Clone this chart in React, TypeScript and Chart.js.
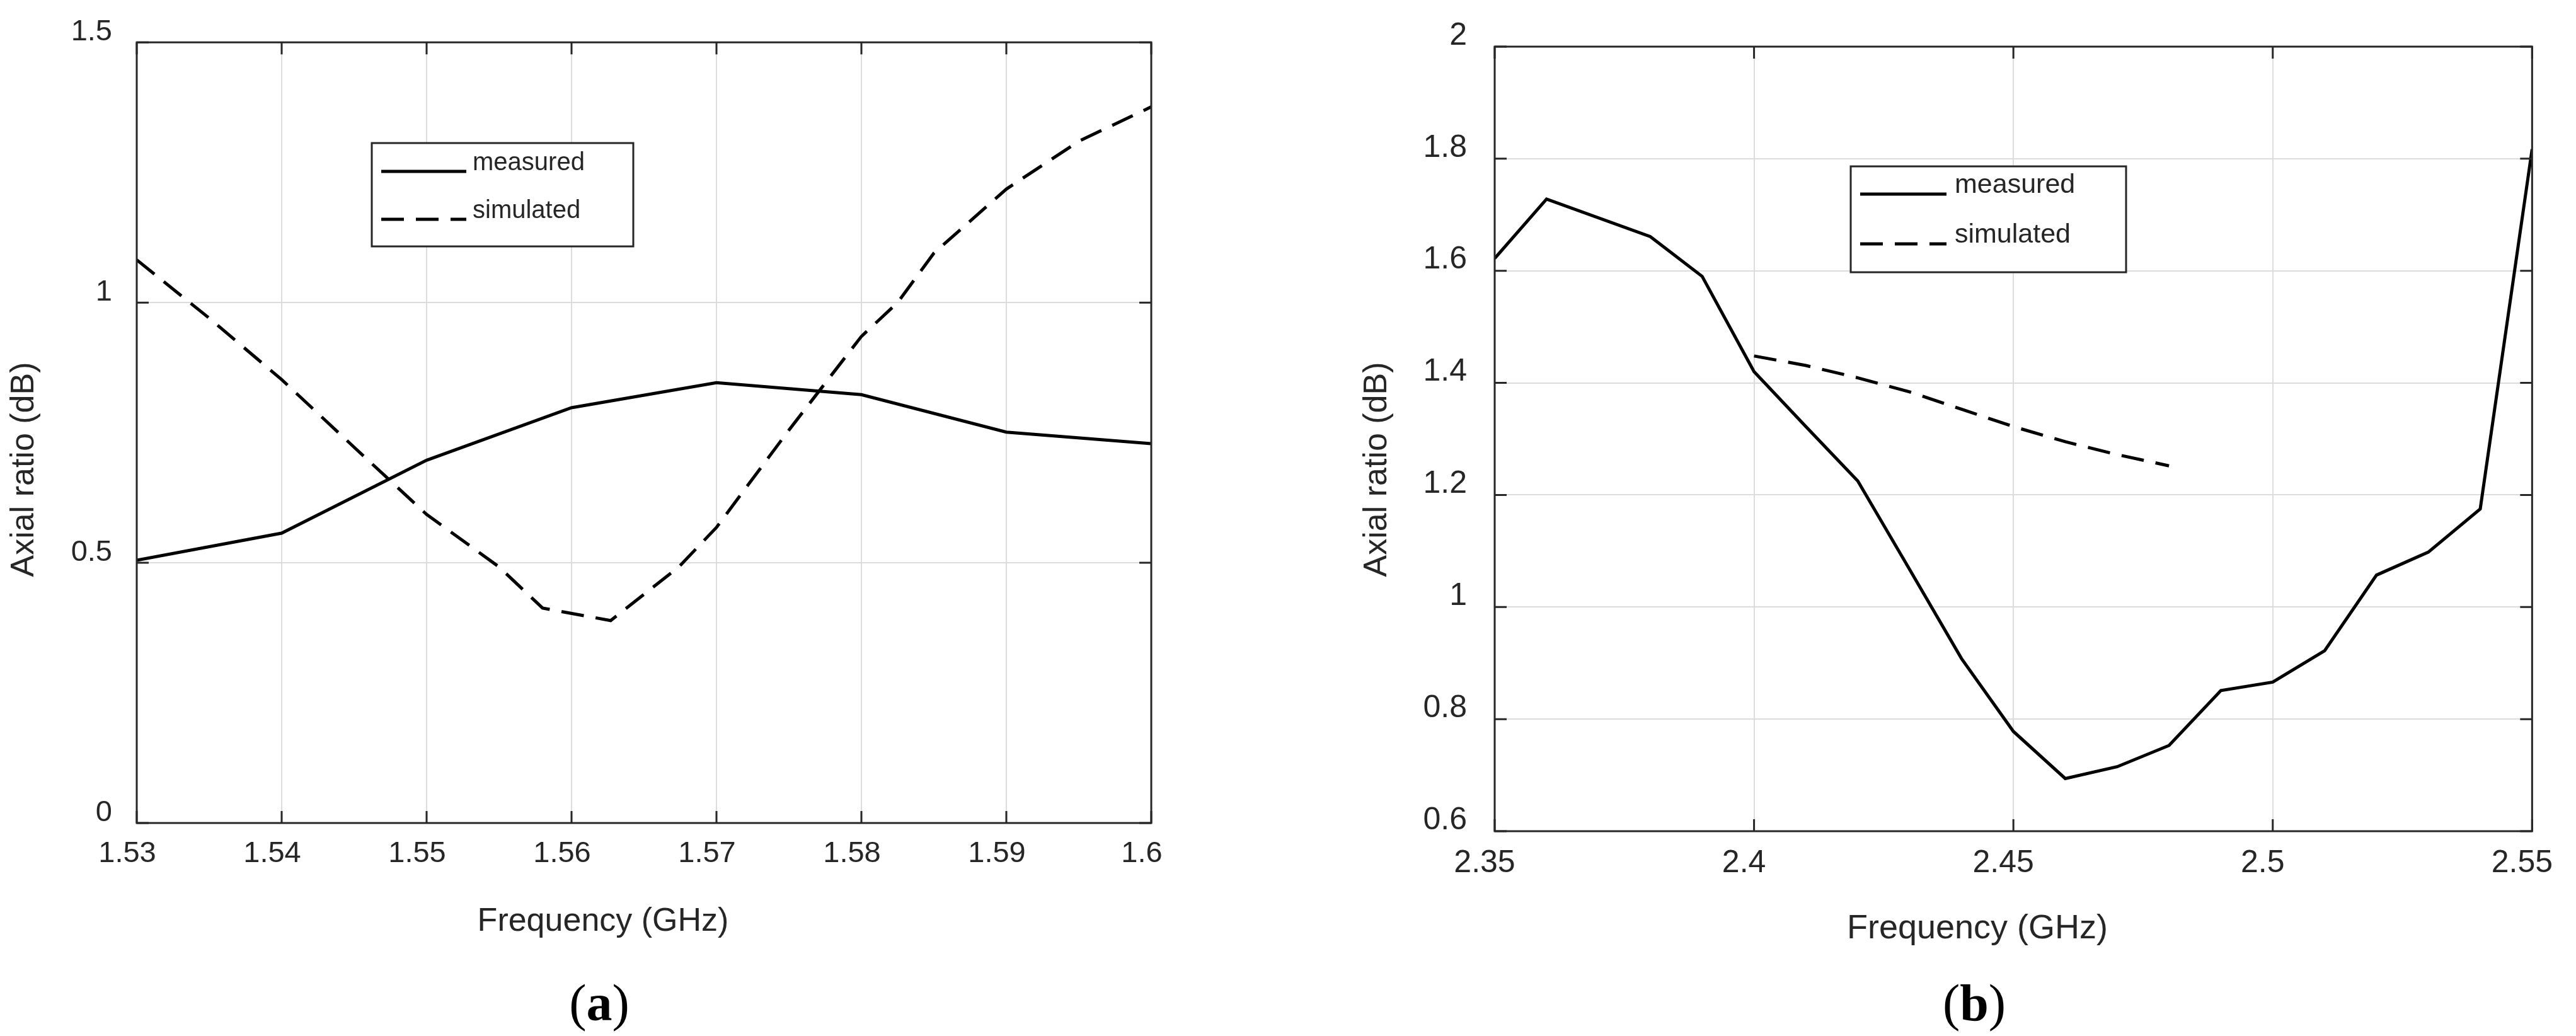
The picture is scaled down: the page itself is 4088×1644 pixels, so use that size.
import React, { useEffect, useRef } from 'react';
import { Chart, registerables } from 'chart.js';

Chart.register(...registerables);

// ---------- data: panel (a) ----------
const FREQ_A_MEASURED = [1.53, 1.54, 1.55, 1.56, 1.57, 1.58, 1.59, 1.6];
const AR_A_MEASURED = [0.505, 0.557, 0.697, 0.798, 0.846, 0.823, 0.751, 0.729];
const FREQ_A_SIMULATED = [1.53, 1.535, 1.54, 1.545, 1.55, 1.555, 1.558, 1.5627, 1.5674, 1.57, 1.575, 1.58, 1.5825, 1.585, 1.59, 1.595, 1.6];
const AR_A_SIMULATED = [1.082, 0.97, 0.852, 0.722, 0.593, 0.492, 0.413, 0.389, 0.492, 0.568, 0.755, 0.935, 1.0, 1.095, 1.218, 1.31, 1.376];
const X_TICKS_A = [1.53, 1.54, 1.55, 1.56, 1.57, 1.58, 1.59, 1.6];
const X_TICK_LABELS_A = ['1.53', '1.54', '1.55', '1.56', '1.57', '1.58', '1.59', '1.6'];
const Y_TICKS_A = [0, 0.5, 1, 1.5];
const Y_TICK_LABELS_A = ['0', '0.5', '1', '1.5'];

// ---------- data: panel (b) ----------
const FREQ_B_MEASURED = [2.35, 2.36, 2.38, 2.39, 2.4, 2.41, 2.42, 2.43, 2.44, 2.45, 2.46, 2.47, 2.48, 2.49, 2.5, 2.51, 2.52, 2.53, 2.54, 2.55];
const AR_B_MEASURED = [1.622, 1.728, 1.661, 1.59, 1.42, 1.322, 1.225, 1.067, 0.908, 0.778, 0.694, 0.715, 0.753, 0.851, 0.866, 0.922, 1.057, 1.098, 1.175, 1.817];
const FREQ_B_SIMULATED = [2.4, 2.41, 2.42, 2.43, 2.44, 2.45, 2.46, 2.47, 2.48];
const AR_B_SIMULATED = [1.448, 1.431, 1.409, 1.384, 1.353, 1.322, 1.295, 1.272, 1.252];
const X_TICKS_B = [2.35, 2.4, 2.45, 2.5, 2.55];
const X_TICK_LABELS_B = ['2.35', '2.4', '2.45', '2.5', '2.55'];
const Y_TICKS_B = [0.6, 0.8, 1, 1.2, 1.4, 1.6, 1.8, 2];
const Y_TICK_LABELS_B = ['0.6', '0.8', '1', '1.2', '1.4', '1.6', '1.8', '2'];

const SERIES_LABELS = ['measured', 'simulated'];
const X_TITLE = 'Frequency (GHz)';
const Y_TITLE = 'Axial ratio (dB)';

const SANS = '"Liberation Sans", Arial, Helvetica, sans-serif';
const SERIF = '"Liberation Serif", "Times New Roman", serif';
const AXIS_COLOR = '#262626';

type Panel = {
  tag: string;
  canvasLeft: number;
  width: number;
  height: number;
  plot: { left: number; right: number; top: number; bottom: number };
  xMin: number; xMax: number; yMin: number; yMax: number;
  xTicks: number[]; xLabels: string[]; yTicks: number[]; yLabels: string[];
  measured: { x: number[]; y: number[] };
  simulated: { x: number[]; y: number[] };
  tickFont: number; xPad: number; yPad: number; xLabelOffset: number; yLabelOffset: number;
  xTitle: { x: number; y: number; size: number };
  yTitle: { x: number; y: number; size: number };
  tagPos: { x: number; y: number; size: number };
  legend: { left: number; top: number; right: number; bottom: number; x0: number; x1: number; rows: number[]; textX: number; size: number };
};

const PANELS: Panel[] = [
  {
    tag: 'a',
    canvasLeft: 0,
    width: 2000,
    height: 1644,
    plot: { left: 217, right: 1827, top: 60, bottom: 1306 },
    xMin: 1.53, xMax: 1.6, yMin: 0, yMax: 1.5,
    xTicks: X_TICKS_A, xLabels: X_TICK_LABELS_A, yTicks: Y_TICKS_A, yLabels: Y_TICK_LABELS_A,
    measured: { x: FREQ_A_MEASURED, y: AR_A_MEASURED },
    simulated: { x: FREQ_A_SIMULATED, y: AR_A_SIMULATED },
    tickFont: 47, xPad: 21, yPad: 39, xLabelOffset: -15, yLabelOffset: -16,
    xTitle: { x: 957, y: 1477, size: 52 },
    yTitle: { x: 53, y: 745, size: 52 },
    tagPos: { x: 951, y: 1619, size: 82 },
    legend: { left: 590, top: 227, right: 1005, bottom: 391, x0: 605, x1: 740, rows: [272, 348], textX: 750, size: 40 },
  },
  {
    tag: 'b',
    canvasLeft: 2100,
    width: 1988,
    height: 1644,
    plot: { left: 272, right: 1943, top: 42, bottom: 1319 },
    xMin: 2.35, xMax: 2.55, yMin: 0.6, yMax: 2,
    xTicks: X_TICKS_B, xLabels: X_TICK_LABELS_B, yTicks: Y_TICKS_B, yLabels: Y_TICK_LABELS_B,
    measured: { x: FREQ_B_MEASURED, y: AR_B_MEASURED },
    simulated: { x: FREQ_B_SIMULATED, y: AR_B_SIMULATED },
    tickFont: 50, xPad: 21, yPad: 44, xLabelOffset: -16, yLabelOffset: -17,
    xTitle: { x: 1038, y: 1489, size: 54 },
    yTitle: { x: 100, y: 745, size: 52 },
    tagPos: { x: 1033, y: 1619, size: 82 },
    legend: { left: 837, top: 264, right: 1274, bottom: 432, x0: 852, x1: 989, rows: [308, 387], textX: 1002, size: 43 },
  },
];

function makeFramePlugin(p: Panel) {
  return {
    id: 'frame_' + p.tag,
    afterDatasetsDraw(chart: any) {
      const ctx: CanvasRenderingContext2D = chart.ctx;
      const { left, right, top, bottom } = chart.chartArea;
      const xs = chart.scales.x;
      const ys = chart.scales.y;
      const tickLen = 19;
      ctx.save();
      ctx.strokeStyle = AXIS_COLOR;
      ctx.lineWidth = 3;
      ctx.lineCap = 'butt';
      ctx.setLineDash([]);
      ctx.beginPath();
      xs.ticks.forEach((t: any) => {
        const px = xs.getPixelForValue(t.value);
        ctx.moveTo(px, bottom);
        ctx.lineTo(px, bottom - tickLen);
        ctx.moveTo(px, top);
        ctx.lineTo(px, top + tickLen);
      });
      ys.ticks.forEach((t: any) => {
        const py = ys.getPixelForValue(t.value);
        ctx.moveTo(left, py);
        ctx.lineTo(left + tickLen, py);
        ctx.moveTo(right, py);
        ctx.lineTo(right - tickLen, py);
      });
      ctx.stroke();
      ctx.strokeRect(left, top, right - left, bottom - top);

      // legend
      const L = p.legend;
      ctx.fillStyle = '#ffffff';
      ctx.fillRect(L.left, L.top, L.right - L.left, L.bottom - L.top);
      ctx.lineWidth = 3;
      ctx.strokeStyle = AXIS_COLOR;
      ctx.strokeRect(L.left, L.top, L.right - L.left, L.bottom - L.top);
      chart.data.datasets.forEach((ds: any, i: number) => {
        const y = L.rows[i];
        ctx.save();
        ctx.strokeStyle = ds.borderColor;
        ctx.lineWidth = ds.borderWidth;
        ctx.setLineDash(ds.borderDash || []);
        ctx.beginPath();
        ctx.moveTo(L.x0, y);
        ctx.lineTo(L.x1, y);
        ctx.stroke();
        ctx.restore();
        ctx.fillStyle = AXIS_COLOR;
        ctx.font = `${L.size}px ${SANS}`;
        ctx.textAlign = 'left';
        ctx.textBaseline = 'alphabetic';
        ctx.fillText(ds.label, L.textX, y - 2);
      });

      // axis titles
      ctx.fillStyle = AXIS_COLOR;
      ctx.textAlign = 'center';
      ctx.textBaseline = 'alphabetic';
      ctx.font = `${p.xTitle.size}px ${SANS}`;
      ctx.fillText(X_TITLE, p.xTitle.x, p.xTitle.y);
      ctx.save();
      ctx.translate(p.yTitle.x, p.yTitle.y);
      ctx.rotate(-Math.PI / 2);
      ctx.font = `${p.yTitle.size}px ${SANS}`;
      ctx.fillText(Y_TITLE, 0, 0);
      ctx.restore();

      // sub-figure tag "(a)" / "(b)"
      const regular = `${p.tagPos.size}px ${SERIF}`;
      const bold = `bold ${p.tagPos.size}px ${SERIF}`;
      ctx.fillStyle = '#000000';
      ctx.textAlign = 'left';
      ctx.font = regular;
      const wOpen = ctx.measureText('(').width;
      const wClose = ctx.measureText(')').width;
      ctx.font = bold;
      const wTag = ctx.measureText(p.tag).width;
      let x = p.tagPos.x - (wOpen + wTag + wClose) / 2;
      ctx.font = regular;
      ctx.fillText('(', x, p.tagPos.y);
      x += wOpen;
      ctx.font = bold;
      ctx.fillText(p.tag, x, p.tagPos.y);
      x += wTag;
      ctx.font = regular;
      ctx.fillText(')', x, p.tagPos.y);
      ctx.restore();
    },
  };
}

function PanelChart({ p }: { p: Panel }) {
  const ref = useRef<HTMLCanvasElement | null>(null);
  useEffect(() => {
    if (!ref.current) return;
    const xAxisHeight = 100;
    const chart = new Chart(ref.current, {
      type: 'line',
      data: {
        datasets: [
          {
            label: SERIES_LABELS[0],
            data: p.measured.x.map((x, i) => ({ x, y: p.measured.y[i] })),
            borderColor: '#000000',
            borderWidth: 5,
            pointRadius: 0,
            tension: 0,
            fill: false,
            borderJoinStyle: 'miter',
          },
          {
            label: SERIES_LABELS[1],
            data: p.simulated.x.map((x, i) => ({ x, y: p.simulated.y[i] })),
            borderColor: '#000000',
            borderWidth: 5,
            borderDash: [36, 19],
            pointRadius: 0,
            tension: 0,
            fill: false,
            borderJoinStyle: 'miter',
          },
        ],
      },
      options: {
        animation: false,
        responsive: false,
        devicePixelRatio: 1,
        events: [],
        layout: {
          autoPadding: false,
          padding: {
            left: 0,
            top: p.plot.top,
            right: p.width - p.plot.right,
            bottom: p.height - p.plot.bottom - xAxisHeight,
          },
        },
        plugins: {
          legend: { display: false },
          tooltip: { enabled: false },
        },
        scales: {
          x: {
            type: 'linear',
            position: 'bottom',
            min: p.xMin,
            max: p.xMax,
            afterBuildTicks: (s: any) => {
              s.ticks = p.xTicks.map((v) => ({ value: v }));
            },
            afterFit: (s: any) => {
              s.height = xAxisHeight;
            },
            grid: { color: '#dcdcdc', lineWidth: 2, drawTicks: false },
            border: { display: false },
            ticks: {
              autoSkip: false,
              maxRotation: 0,
              minRotation: 0,
              padding: p.xPad,
              labelOffset: p.xLabelOffset,
              color: AXIS_COLOR,
              font: { family: SANS, size: p.tickFont },
              callback: (_v: any, i: number) => p.xLabels[i],
            },
          },
          y: {
            type: 'linear',
            position: 'left',
            min: p.yMin,
            max: p.yMax,
            afterBuildTicks: (s: any) => {
              s.ticks = p.yTicks.map((v) => ({ value: v }));
            },
            afterFit: (s: any) => {
              s.width = p.plot.left;
            },
            grid: { color: '#dcdcdc', lineWidth: 2, drawTicks: false },
            border: { display: false },
            ticks: {
              autoSkip: false,
              padding: p.yPad,
              labelOffset: p.yLabelOffset,
              color: AXIS_COLOR,
              font: { family: SANS, size: p.tickFont },
              callback: (_v: any, i: number) => p.yLabels[i],
            },
          },
        },
      } as any,
      plugins: [makeFramePlugin(p)],
    });
    return () => chart.destroy();
  }, [p]);
  return (
    <canvas
      ref={ref}
      width={p.width}
      height={p.height}
      style={{ position: 'absolute', left: p.canvasLeft, top: 0, width: p.width, height: p.height, display: 'block' }}
    />
  );
}

export default function App() {
  return (
    <div
      style={{
        position: 'fixed',
        left: 0,
        top: 0,
        width: 4088,
        height: 1644,
        background: '#ffffff',
        overflow: 'hidden',
      }}
    >
      {PANELS.map((p) => (
        <PanelChart key={p.tag} p={p} />
      ))}
    </div>
  );
}
